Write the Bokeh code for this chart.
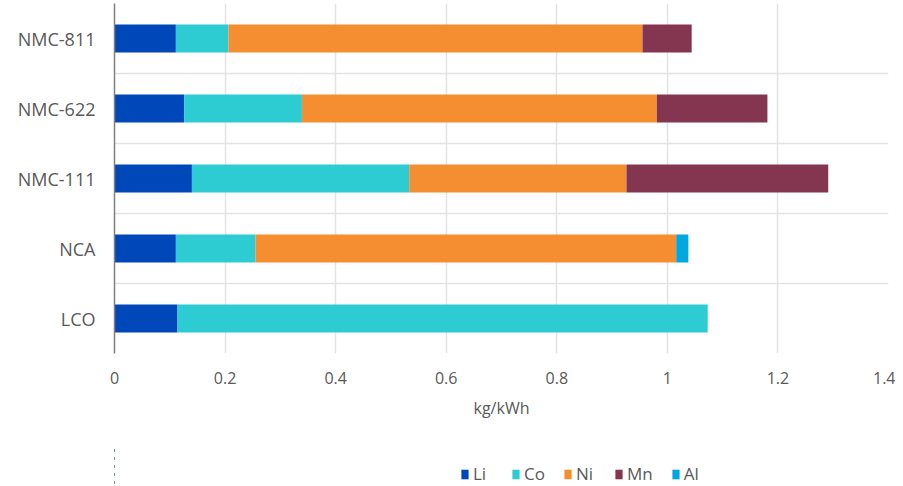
from bokeh.plotting import figure
from bokeh.layouts import column
from bokeh.models import (FactorRange, Range1d, Legend, LegendItem, FixedTicker,
                          NumeralTickFormatter, ColumnDataSource)
from bokeh.embed import file_html
from bokeh.resources import INLINE

categories = ["LCO", "NCA", "NMC-111", "NMC-622", "NMC-811"]
li = [0.114, 0.111, 0.140, 0.126, 0.111]
co = [0.959, 0.144, 0.393, 0.213, 0.095]
ni = [0.0, 0.761, 0.393, 0.642, 0.749]
mn = [0.0, 0.0, 0.365, 0.200, 0.089]
al = [0.0, 0.022, 0.0, 0.0, 0.0]
elements = ["Li", "Co", "Ni", "Mn", "Al"]
colors = ["#0047BA", "#2DCCD3", "#F58E31", "#843550", "#00A8DF"]
x_ticks = [0, 0.2, 0.4, 0.6, 0.8, 1.0, 1.2, 1.4]
x_label = "kg/kWh"

FONT = "Open Sans"
TXT = "#595959"

source = ColumnDataSource(dict(cat=categories, Li=li, Co=co, Ni=ni, Mn=mn, Al=al))

p = figure(width=895, height=446, y_range=FactorRange(factors=categories),
           x_range=Range1d(0, 1.4), output_backend="svg", toolbar_location=None,
           min_border_left=114, min_border_right=7, min_border_top=3, min_border_bottom=93)

p.hbar_stack(elements, y="cat", height=0.4, color=colors, source=source, line_color=None)

p.outline_line_color = None
p.background_fill_color = "white"

# x axis
p.xaxis.ticker = FixedTicker(ticks=x_ticks)
p.xaxis.formatter = NumeralTickFormatter(format="0.[0]")
p.xaxis.axis_line_color = None
p.xaxis.major_tick_line_color = None
p.xaxis.minor_tick_line_color = None
p.xaxis.major_label_text_font = FONT
p.xaxis.major_label_text_font_size = "16px"
p.xaxis.major_label_text_color = TXT
p.xaxis.major_label_standoff = 12
p.xaxis.axis_label = x_label
p.xaxis.axis_label_text_font = FONT
p.xaxis.axis_label_text_font_size = "16px"
p.xaxis.axis_label_text_font_style = "normal"
p.xaxis.axis_label_text_color = TXT
p.xaxis.axis_label_standoff = 10

# y axis
p.yaxis.axis_line_color = "#808080"
p.yaxis.axis_line_width = 1.5
p.yaxis.major_tick_line_color = None
p.yaxis.minor_tick_line_color = None
p.yaxis.major_label_text_font = FONT
p.yaxis.major_label_text_font_size = "18px"
p.yaxis.major_label_text_color = TXT
p.yaxis.major_label_standoff = 13

# grids
p.xgrid.ticker = FixedTicker(ticks=x_ticks)
p.xgrid.grid_line_color = "#E3E3E3"
p.xgrid.grid_line_width = 1.5
p.ygrid.ticker = FixedTicker(ticks=[0, 1, 2, 3, 4])
p.ygrid.grid_line_color = "#E3E3E3"
p.ygrid.grid_line_width = 1.5

# legend strip (own small figure, bars kept out of its view)
lf = figure(width=895, height=40, x_range=Range1d(10, 11),
            y_range=FactorRange(factors=categories), x_axis_location=None,
            y_axis_location=None, toolbar_location=None, output_backend="svg",
            min_border=0)
lf.outline_line_color = None
lf.grid.visible = False
lrs = lf.hbar_stack(elements, y="cat", height=0.4, color=colors, source=source,
                    line_color=None)
items = [LegendItem(label=e, renderers=[r]) for e, r in zip(elements, lrs)]
legend = Legend(items=items, orientation="horizontal", location=(346, 1),
                label_text_font=FONT, label_text_font_size="17px", label_text_color=TXT,
                glyph_width=9, glyph_height=12, label_standoff=4, spacing=18,
                border_line_color=None, background_fill_alpha=0, padding=2, margin=0)
lf.add_layout(legend, "center")

layout = column(p, lf)
open("out.html", "w").write(file_html(layout, INLINE))
